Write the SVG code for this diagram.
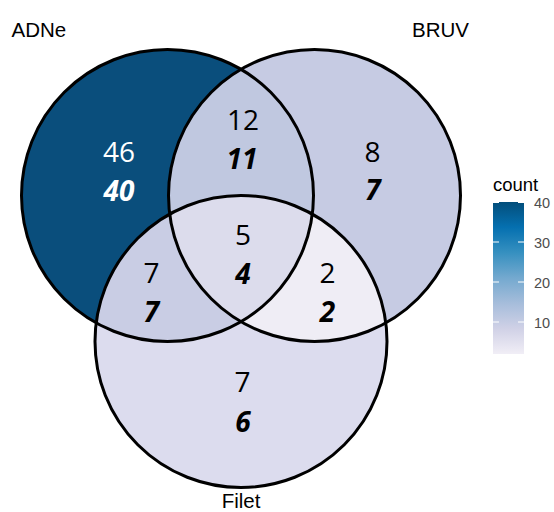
<svg xmlns="http://www.w3.org/2000/svg" width="554" height="512" viewBox="0 0 554 512">
<style>
.num{font-family:"Open Sans","Noto Sans",sans-serif;font-size:28px;text-anchor:middle;fill:#000}
.b{font-weight:bold;font-style:italic}
.w{fill:#fff}
.set{font-family:"Liberation Sans",Arial,sans-serif;font-size:20.5px;fill:#000}
.edge{fill:none;stroke:#000;stroke-width:3}
.tick{font-family:"Liberation Sans",Arial,sans-serif;font-size:14.5px;fill:#4d4d4d}
.tk{stroke:#fff;stroke-width:1}
</style>
<defs>
<circle id="cA" cx="167.5" cy="195.5" r="146"/>
<circle id="cB" cx="314.5" cy="195.5" r="146"/>
<circle id="cF" cx="241" cy="341.5" r="146"/>
<clipPath id="clipA"><use href="#cA"/></clipPath>
<clipPath id="clipB"><use href="#cB"/></clipPath>
<linearGradient id="grad" x1="0" y1="0" x2="0" y2="1">
<stop offset="0" stop-color="#034E7B"/>
<stop offset="0.1667" stop-color="#0570B0"/>
<stop offset="0.3333" stop-color="#3690C0"/>
<stop offset="0.5" stop-color="#74A9CF"/>
<stop offset="0.6667" stop-color="#A6BDDB"/>
<stop offset="0.8333" stop-color="#D0D1E6"/>
<stop offset="1" stop-color="#F1EEF6"/>
</linearGradient>
</defs>
<g id="regions">
<g id="ADNe-only"><use href="#cA" fill="#0a4e7c"/></g>
<g id="BRUV-only"><use href="#cB" fill="#c6cbe3"/></g>
<g id="Filet-only"><use href="#cF" fill="#dcdcee"/></g>
<g id="ADNe-BRUV"><use href="#cB" fill="#c0c8e0" clip-path="url(#clipA)"/></g>
<g id="ADNe-Filet"><use href="#cF" fill="#c9cde4" clip-path="url(#clipA)"/></g>
<g id="BRUV-Filet"><use href="#cF" fill="#efedf5" clip-path="url(#clipB)"/></g>
<g id="ADNe-BRUV-Filet" clip-path="url(#clipA)"><use href="#cF" fill="#dcdcec" clip-path="url(#clipB)"/></g>
</g>
<g id="outlines">
<use href="#cA" class="edge"/>
<use href="#cB" class="edge"/>
<use href="#cF" class="edge"/>
</g>
<g id="counts">
<text class="num w" x="119" y="162">46</text>
<text class="num w b" x="119" y="201">40</text>
<text class="num" x="243" y="130">12</text>
<text class="num b" x="242" y="169">11</text>
<text class="num" x="372.5" y="162">8</text>
<text class="num b" x="373" y="200">7</text>
<text class="num" x="243" y="245">5</text>
<text class="num b" x="243" y="284">4</text>
<text class="num" x="151.5" y="283">7</text>
<text class="num b" x="151.5" y="322">7</text>
<text class="num" x="327.5" y="283">2</text>
<text class="num b" x="327.5" y="322">2</text>
<text class="num" x="242.5" y="392">7</text>
<text class="num b" x="243" y="432">6</text>
</g>
<g id="set-labels">
<text class="set" x="11.5" y="37">ADNe</text>
<text class="set" x="412" y="37">BRUV</text>
<text class="set" x="241" y="508" text-anchor="middle">Filet</text>
</g>
<g id="legend">
<text x="493" y="191" style="font-family:'Liberation Sans',Arial,sans-serif;font-size:18.5px;fill:#000">count</text>
<rect x="493" y="202" width="31" height="152" fill="url(#grad)"/>
<line class="tk" x1="493" y1="242" x2="499" y2="242"/><line class="tk" x1="518" y1="242" x2="524" y2="242"/>
<line class="tk" x1="493" y1="282" x2="499" y2="282"/><line class="tk" x1="518" y1="282" x2="524" y2="282"/>
<line class="tk" x1="493" y1="322" x2="499" y2="322"/><line class="tk" x1="518" y1="322" x2="524" y2="322"/>
<line class="tk" x1="493" y1="202.5" x2="499" y2="202.5"/><line class="tk" x1="518" y1="202.5" x2="524" y2="202.5"/>
<text class="tick" x="534" y="207.5">40</text>
<text class="tick" x="534" y="247.5">30</text>
<text class="tick" x="534" y="287.5">20</text>
<text class="tick" x="534" y="327.5">10</text>
</g>
</svg>
